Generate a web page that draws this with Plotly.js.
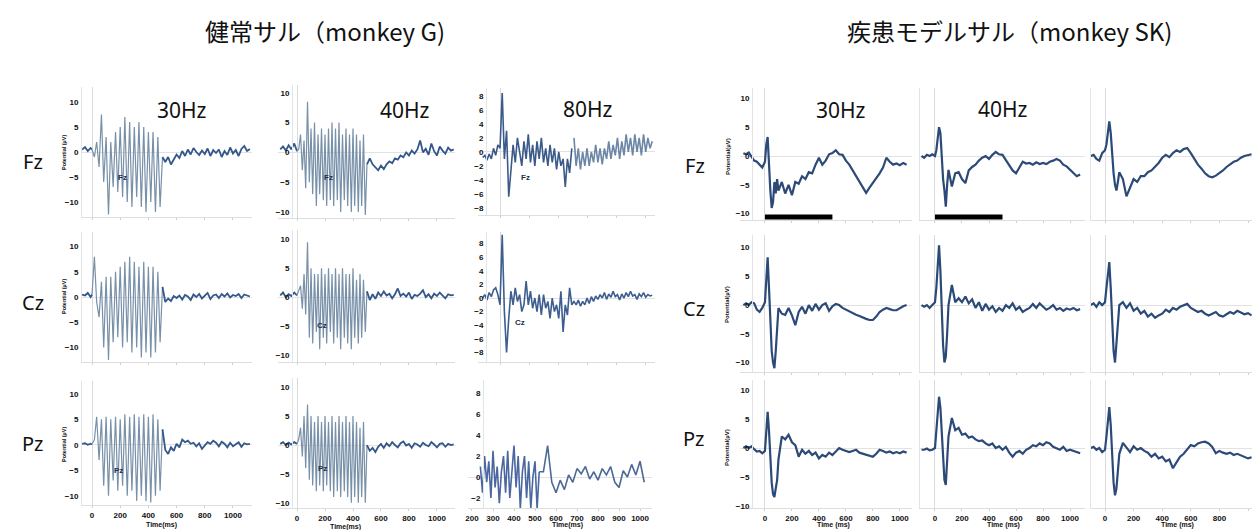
<!DOCTYPE html>
<html><head><meta charset="utf-8">
<script src="https://cdn.plot.ly/plotly-3.0.1.min.js"></script>
<style>html,body{margin:0;padding:0;background:#fff}#c{width:1252px;height:530px}</style>
</head><body><div id="c"></div>
<script>
// ---------- time bases (ms) ----------
const tL30 = [-70,-50,-30,-10,0,17,33,50,67,83,100,117,133,150,167,183,200,217,233,250,267,283,300,317,333,350,367,383,400,417,433,450,467,483,500,520,540,560,580,600,620,640,660,680,700,720,740,760,780,800,820,840,860,880,900,920,940,960,980,1000,1020,1040,1060,1080,1100,1120];
const tL40 = [-120,-100,-80,-60,-40,-20,0,12,25,38,50,62,75,88,100,112,125,138,150,162,175,188,200,212,225,238,250,262,275,288,300,312,325,338,350,362,375,388,400,412,425,438,450,462,475,488,500,520,540,560,580,600,620,640,660,680,700,720,740,760,780,800,820,840,860,880,900,920,940,960,980,1000,1020,1040,1060,1080,1100,1120];
const tL80 = [-120,-105,-90,-75,-60,-45,-30,-15,0,15,30,45,60,75,90,105,120,135,150,165,180,195,210,225,240,255,270,285,300,315,330,345,360,375,390,405,420,435,450,465,480,495,510,525,540,555,570,585,600,615,630,645,660,675,690,705,720,735,750,765,780,795,810,825,840,855,870,885,900,915,930,945,960,975,990,1005,1020,1035,1050];
const tL80P = [240,250,260,270,280,290,300,310,320,330,340,350,360,370,380,390,400,410,420,430,440,450,460,470,480,490,500,510,520,540,560,580,600,620,640,660,680,700,720,740,760,780,800,820,840,860,880,900,920,940,960,980,1000,1020];
const tR = [-160,-140,-120,-100,-80,-60,-40,-20,0,10,20,30,40,50,60,70,80,90,100,125,150,175,200,225,250,275,300,325,350,375,400,425,450,475,500,525,550,575,600,625,650,675,700,725,750,775,800,825,850,875,900,925,950,975,1000,1025,1050,1075,1100];

// ---------- healthy monkey G (µV) ----------
const fzG30 = [0.5,1.0,0.2,0.8,0.5, -1,2,-3,7.5,-6,3,-12.5,2,-7,4,-8,5,-9,7,-10,6,-11,5,-9,6,-11,5,-12,4,-10,4,-12,3,-11,-1, -2,-1,-2.5,-1.5,-0.5,-1.2,0.2,-0.8,0.5,-0.5,0.8,0,-0.6,0.3,-0.4,0.7,-0.8,0.4,-0.2,0.5,-1,0.2,-0.6,0.9,-0.3,0.4,-0.8,0.6,1.2,0.2,0.6];
const czG30 = [0.5,0.3,0.8,0,0.5, 8,-1,-4,3,-10,4,-12.5,4,-9,5,-8,6,-10,7,-9,8,-11,7,-10,6,-12,7,-11,6,-12,6,-11,5,-9,2, -1,-0.3,-0.8,0.2,-0.2,0.3,-0.5,0.4,0.1,-0.6,0.5,0,0.6,-0.3,0.2,0.8,-0.4,0.3,0.5,-0.2,0.6,0.1,0.7,-0.1,0.4,0.2,0.6,-0.2,0.5,0.3,0.1];
const pzG30 = [0.2,0.3,0,0.2,0.1, 1,5.5,-3,5,-8,5.5,-10,5,-7,5.5,-9,5,-8,6,-10,5.5,-9,6,-11,5.5,-10,6,-11,5.5,-11.3,6,-10,5,-9,3, -1,-1.8,-0.5,-1.2,0.2,-0.5,1,0.5,0.8,0.2,0.4,-0.3,0.3,-0.8,-0.2,0.5,0.2,0.8,0.4,-0.3,0.6,0.2,-0.5,0.4,-0.3,0.2,0.5,-0.4,0.3,0.1,0.2];
const fzG40 = [0.5,1,0.3,1.2,0.5,1.5,0.2, 0.5,3,-3,2,-6,8.5,-5,4,-7,5,-9,3,-7,4,-8,3,-9,4,-8,5,-9,4,-8,5,-10,3,-8,4,-9,3,-10,4,-9,3,-10,2,-9,3,-10.5,-2, -1,-2,-2.5,-3,-2.2,-2.8,-2,-1.5,-1.8,-1,-1.2,-0.5,-0.8,0,-0.5,0.3,-0.2,0.5,2,0,0.6,-0.4,1.5,0.2,-0.5,1,0.3,-0.2,0.8,0.3,0.5];
const czG40 = [0.3,0.8,0,0.5,0.2,0.8,0.3, 1,2,-2,4,-3,9.5,-7,5,-8,4,-6,4,-9,5,-7,4,-8,5,-6,4,-8,5,-7,4,-9,5,-7,4,-8,4,-9,5,-7,3,-8,4,-7,3,-6,1, -0.5,0.5,-0.3,0.8,0.2,1,0.3,0.6,-0.2,0.5,1.5,0.2,0.6,0.1,0.8,-0.3,0.4,0.2,0.6,1.2,0,0.5,-0.2,0.6,0.2,0.8,0.3,-0.2,0.5,0.3,0.4];
const pzG40 = [0.2,0.5,0,0.4,0.1,0.5,0.2, 1,3,-2,5,-4,7,-6,5,-7,4,-8,5,-7,4,-8,5,-7,4,-8,5,-9,4,-8,5,-9,4,-8,5,-9,4,-10,5,-9,4,-10,3,-9,4,-10,0, -1,-0.5,-1.2,-0.3,0.2,-0.5,0.3,-0.2,0.5,0,-0.4,0.3,0.6,-0.1,0.2,-0.5,0.3,0.1,-0.3,0.4,0,-0.2,0.5,0.1,-0.4,0.2,0.3,-0.3,0.2,0,0.1];
const fzG80 = [-0.8,-0.5,-1.2,-0.3,-1,0.5,-0.5,1,0.5, 8.4,-1,3,-6.4,-2,1,-1.5,2,0,-2,1.5,-1,2.5,-1.5,1,-2,1.5,-1,2,-1.5,0.5,-2,1,-1.5,0.5,-2.5,0,-2,-1,-5,-1,-3,0.5, 2,-2,0.5,-2.5,0,-2,0.5,-2,0,-1.5,1,-1.5,0.5,-1.8,0.5,-1,1.5,-1,1,-0.5,2,-1,1.5,-0.5,2.5,0,2,-0.5,2.5,0,2,-0.5,2.5,0,2,0.5,1.5];
const czG80 = [0,0.5,-0.3,0.8,0.2,1.2,1.5,0.5,-1, 9.3,-2,-8,-3,1,-1,1.5,-0.5,0.5,-2,-1,2.5,-1,1,-1.5,0,-2,0.5,-2.5,0.5,-1.5,-0.5,-3,0,-2,-1,-3,1,-5,-1,-2.5,1.5,-1, -0.5,-1,-0.3,-1.2,-0.5,-1,0,-0.8,0.2,-0.5,0.3,-0.2,0.5,0,0.8,-0.2,0.6,0.1,1,0.2,0.5,-0.3,0.6,0,0.8,0.2,1,0.3,0.5,-0.2,0.6,0.2,0.8,0.1,0.5,0.3,0.4];
const pzG80 = [1,-1.5,2,-0.5,1.5,-2,2.5,-1,1,-2.5,0.5,2,-1.5,2.5,-2,1,3,-1,2,-3,0.5,2,-2,1.5,-3,0,1.5,-3,0.5, 0.5,3,-0.5,-1.5,-0.3,-1.2,0.2,-0.5,0.8,0.3,1,-0.2,0.5,-0.3,0.8,0.2,1,-0.5,-1,0.6,0,1.2,0.2,1.5,-0.5];

// ---------- disease model monkey SK (µV) ----------
const fzSK30 = [0.5,0.3,0.6,0,-0.8,-1,-1.5,-2,-1, 2,3.3,-2,-6,-9,-8,-4.5,-6.5,-4,-6, -4.5,-6.5,-5,-6.8,-4.5,-4.8,-3.5,-4,-2.8,-3,-1.5,-0.3,-1.5,-0.8,0.3,0.5,1,0.3,0.2,-0.8,-1.5,-2.5,-3.5,-4.5,-5.5,-6.4,-5.5,-4.7,-4,-3,-2,-0.3,-1,-1.5,-1.3,-1.6,-1.2,-1.5,null,null];
const fzSK40 = [null,null,null,0,-0.3,0.2,0,0.3,0, 1,3,5,4,-1,-4,-6,-8.8,-5,-2.4, -5.3,-3,-2.8,-4,-4.7,-2.5,-1.9,-1.5,-0.8,-0.3,0,-0.5,0.2,0.7,0.3,0.2,-0.7,-1.5,-2.5,-3,-2,-1,-1.3,-1.2,-1.5,-1.1,-1.4,-1.2,-1.4,-1,-0.8,-0.5,-0.8,-1.5,-1.8,-2.4,-3,-3.5,-3.2,null];
const fzSK80 = [null,null,null,0,0.2,-0.5,-0.8,0.5,1, 2,4,6,4,0,-3,-5,-6,-4.5,-2.8, -4,-7,-5.5,-4,-4.5,-3.5,-3.5,-2.8,-2.5,-1.8,-1.2,-0.3,0.2,-0.2,0.5,1,0.7,1.2,1.4,0.5,-0.5,-1.5,-2.2,-3,-3.5,-3.7,-3.4,-3,-2.5,-1.9,-1.5,-1,-0.8,-0.3,0,0.2,0.3,null,null,null];
const czSK30 = [0,0.3,0,0.5,0.3,-0.8,-1.2,-0.5,0.5, 4,8.3,3,-3,-8,-10,-11,-8,-4,-0.5, -1.5,-1.7,-0.5,-1.8,-3.5,-1.2,-0.3,-1.5,0,-1,0.2,-0.8,0,0.3,-1,-0.2,0.2,0,-0.5,-0.8,-1.2,-1.5,-1.7,-1.9,-2.2,-2.4,-2.6,-2.6,-2,-1.2,-0.8,-0.5,-0.7,-0.9,-0.9,-0.5,-0.2,0,null,null];
const czSK40 = [null,null,null,0,-0.3,0,-0.5,0,0.5, 3,8,10.4,6,-2,-7,-10,-9,-5,0, 3.5,0.5,1.2,0.5,1.5,0.3,1,-0.5,0.5,-1,0.2,-0.8,-0.2,-1.2,-0.5,-1,0,-0.5,0.3,-0.8,-0.3,-1.2,-0.8,-0.5,0.2,-0.5,0.3,-0.3,-0.8,-0.5,0,-0.8,-0.5,-1,-0.6,-0.8,-0.5,-0.9,-0.7,null];
const czSK80 = [null,null,null,0,0.3,-0.3,0.5,0,0.5, 3,6,7.5,3,-3,-8,-10,-7,-3,0, 0.5,-0.5,0.3,-1,-0.5,-1.5,-1,-2,-1.5,-2.2,-1.8,-1.5,-0.8,-1.2,-0.5,-0.8,-0.3,0,0.2,-0.5,-0.8,-1.2,-1,-1.5,-1.8,-1.5,-1.2,-1.8,-2,-1.6,-1.2,-1.5,-1,-1.3,-1.6,-1.4,-1.8,null,null,null];
const pzSK30 = [0,0.3,0,0.3,-0.2,-0.6,-0.5,-0.9,-0.5, 3,6.3,3,-2,-6,-8,-8.5,-7,-5.6,-2, 2,1.5,2.3,1,0.5,-1.5,-0.3,-1,-0.5,-1.2,-0.8,-1.8,-1.2,-1.5,-0.8,-1.2,-0.5,0,-0.3,-0.5,-0.7,-0.5,-0.3,-0.8,-1,-1.2,-1.3,-1.5,-1,-0.3,-0.5,-0.8,-0.6,-0.9,-0.7,-0.9,-0.6,-0.8,null,null];
const pzSK40 = [null,null,null,-0.3,-0.3,-0.1,-0.4,-0.3,0, 3,6,8.9,7,2,-3,-5.5,-6.4,-3,2, 5.2,3.1,3.5,2.3,2.5,1.8,2,1.5,1.2,1.3,0.8,0.5,0.8,0,0.3,-0.3,0.2,-0.8,-1.5,-0.8,-0.5,-1,-0.3,0,0.5,0.3,0.8,0.5,1,0.8,0.2,0,-0.3,0.2,-0.5,-0.3,-0.5,-0.8,-0.9,null];
const pzSK80 = [null,null,null,0,0.2,-0.3,0,-0.7,-0.3, 2,5,7.1,4,-2,-6,-8.2,-7,-4,-1, 0.9,0,-0.7,0.3,-0.3,0,-0.5,-0.8,-1.5,-1,-1.8,-1.5,-2.3,-2,-3.5,-2.5,-1.5,-1,-0.3,0.5,0.3,0.8,1,1.1,0.8,0.2,-0.9,-0.5,-0.8,-1,-0.8,-1.2,-1,-1.3,-1.5,-1.8,-1.6,null,null,null];

// stimulation period bar (ms) and its level (µV)
const stimT = [0, 500];
const stimY = [-10.6, -10.6];

// tick labels
const ticks10 = [-10,-5,0,5,10];
const ticks8 = [-8,-6,-4,-2,0,2,4,6,8];
const ticks8b = [-2,0,2,4,6,8];
const xt200 = [0,200,400,600,800,1000];
const xt100 = [200,300,400,500,600,700,800,900,1000];

// ---------- layout helpers ----------
const W = 1252, H = 530;
const px = v => v / W, py = v => 1 - v / H;
const DARK = '#34578a', LIGHT = '#7890a8', RC = '#2c4a78';
const oscSegs = [[-1e9, 0, DARK, 1.8], [0, 500, LIGHT, 1.2], [500, 1e9, DARK, 1.8]];
const rSegs = [[-1e9, 1e9, RC, 2.2]];

const panels = [
  // left group (monkey G)
  {t:tL30, v:fzG30, xd:[82,252], xr:[-71,1135], yd:[87,217], yr:[-13,13], yt:ticks10, segs:oscSegs},
  {t:tL30, v:czG30, xd:[82,252], xr:[-71,1135], yd:[232,362], yr:[-12.9,12.9], yt:ticks10, segs:oscSegs},
  {t:tL30, v:pzG30, xd:[82,252], xr:[-71,1135], yd:[381,505], yr:[-11.8,12.5], yt:ticks10, segs:oscSegs, xt:xt200},
  {t:tL40, v:fzG40, xd:[278,455], xr:[-136,1129], yd:[85,218], yr:[-11,11.3], yt:ticks10, segs:oscSegs, ypos:292},
  {t:tL40, v:czG40, xd:[278,455], xr:[-136,1129], yd:[230,362], yr:[-11.2,11.6], yt:ticks10, segs:oscSegs, ypos:292},
  {t:tL40, v:pzG40, xd:[278,455], xr:[-136,1129], yd:[378,508], yr:[-10.9,11.6], yt:ticks10, segs:oscSegs, ypos:292, xt:xt200},
  {t:tL80, v:fzG80, xd:[478,655], xr:[-152,1069], yd:[88,215], yr:[-9,9.1], yt:ticks8, segs:[[-1e9,500,'#3a5b8a',1.6],[500,1e9,'#6d87a6',1.6]], ypos:486},
  {t:tL80, v:czG80, xd:[478,655], xr:[-152,1069], yd:[232,362], yr:[-9.4,9.7], yt:ticks8, segs:[[-1e9,1e9,'#3d5e8e',1.6]], ypos:486},
  {t:tL80P, v:pzG80, xd:[468,652], xr:[181,1057], yd:[380,508], yr:[-2.95,9.24], yt:ticks8b, segs:[[-1e9,520,'#4a67a0',1.6],[520,1e9,'#4c6a95',1.6]], ypos:483, xt:xt100},
  // right group (monkey SK)
  {t:tR, v:fzSK30, xd:[740,912], xr:[-185,1090], yd:[88,220], yr:[-11.1,11.8], yt:ticks10, segs:rSegs, ypos:752, bar:true},
  {t:tR, v:czSK30, xd:[740,912], xr:[-185,1090], yd:[235,372], yr:[-11.65,12.2], yt:ticks10, segs:rSegs, ypos:752},
  {t:tR, v:pzSK30, xd:[740,912], xr:[-185,1090], yd:[380,508], yr:[-10.4,11.8], yt:ticks10, segs:rSegs, ypos:752, xt:xt200},
  {t:tR, v:fzSK40, xd:[920,1085], xr:[-111,1111], yd:[88,220], yr:[-11.1,11.8], segs:rSegs, bar:true},
  {t:tR, v:czSK40, xd:[920,1085], xr:[-111,1111], yd:[235,372], yr:[-11.65,12.2], segs:rSegs},
  {t:tR, v:pzSK40, xd:[920,1085], xr:[-111,1111], yd:[380,508], yr:[-10.4,11.8], segs:rSegs, xt:xt200},
  {t:tR, v:fzSK80, xd:[1091,1252], xr:[-98,1028], yd:[88,220], yr:[-11.1,11.8], segs:rSegs},
  {t:tR, v:czSK80, xd:[1091,1252], xr:[-98,1028], yd:[235,372], yr:[-11.65,12.2], segs:rSegs},
  {t:tR, v:pzSK80, xd:[1091,1252], xr:[-98,1028], yd:[380,508], yr:[-10.4,11.8], segs:rSegs, xt:xt200}
];

const tickFont = {family:'Liberation Sans, Arial', size:8, color:'#111', weight:'bold'};
const traces = [];
const layout = {
  width: W, height: H, margin:{l:0,r:0,t:0,b:0},
  paper_bgcolor:'#fff', plot_bgcolor:'rgba(0,0,0,0)', showlegend:false,
  annotations: []
};

panels.forEach((p, i) => {
  const n = i + 1, xa = 'x' + (n === 1 ? '' : n), ya = 'y' + (n === 1 ? '' : n);
  p.segs.forEach(s => {
    traces.push({
      type:'scatter', mode:'lines', x:p.t,
      y:p.v.map((val, k) => (p.t[k] >= s[0] && p.t[k] <= s[1]) ? val : null),
      xaxis:xa, yaxis:ya, line:{color:s[2], width:s[3]}, hoverinfo:'skip'
    });
  });
  if (p.bar) {
    traces.push({type:'scatter', mode:'lines', x:stimT, y:stimY, xaxis:xa, yaxis:ya,
      line:{color:'#000', width:5}, hoverinfo:'skip'});
  }
  const xname = 'xaxis' + (n === 1 ? '' : n), yname = 'yaxis' + (n === 1 ? '' : n);
  layout[xname] = {
    domain:[px(p.xd[0]), px(p.xd[1])], range:p.xr, anchor:ya,
    showgrid:false, zeroline:true, zerolinecolor:'#dadada', zerolinewidth:1,
    showline:true, linecolor:'#dedede', linewidth:1,
    ticks:'outside', ticklen:2, tickcolor:'#cfcfcf',
    tickvals: p.xt || xt200, showticklabels: !!p.xt, tickfont:tickFont
  };
  const y = {
    domain:[py(p.yd[1]), py(p.yd[0])], range:p.yr,
    showgrid:false, zeroline:true, zerolinecolor:'#e2e2e2', zerolinewidth:1,
    showline:true, linecolor:'#e4e4e4', linewidth:1, ticks:'',
    tickvals:p.yt || [], showticklabels: !!p.yt, tickfont:tickFont, ticklabelstandoff:1
  };
  if (p.ypos) { y.anchor = 'free'; y.position = px(p.ypos); } else { y.anchor = xa; }
  layout[yname] = y;
});

const A = layout.annotations;
function txt(text, x, y, size, opts) {
  A.push(Object.assign({text, x:px(x), y:py(y), xref:'paper', yref:'paper', showarrow:false,
    xanchor:'center', yanchor:'middle', font:{family:'Noto Sans, Liberation Sans', size, color:'#111'}}, opts || {}));
}
const cjk = {font:{family:'Noto Sans CJK JP', size:24, color:'#111'}};
txt('健常サル（monkey G)', 325, 31, 24, cjk);
txt('疾患モデルサル（monkey SK)', 1009, 31, 24, cjk);
[['30Hz',182,110],['40Hz',405,110],['80Hz',588,109],['30Hz',841,110],['40Hz',1003,109]].forEach(a => txt(a[0], a[1], a[2], 21));
[['Fz',33,162],['Cz',33,302],['Pz',33,443],['Fz',695,165],['Cz',694,308],['Pz',694,438]].forEach(a => txt(a[0], a[1], a[2], 20));
const yl = {textangle:-90, font:{family:'Liberation Sans', size:5.5, color:'#111', weight:'bold'}};
[[64,153],[64,297],[64,445]].forEach(a => txt('Potential (µV)', a[0], a[1], 5.5, yl));
const yr2 = {textangle:-90, font:{family:'Liberation Sans', size:6, color:'#111', weight:'bold'}};
[[728,157],[727,305],[727,448]].forEach(a => txt('Potential(µV)', a[0], a[1], 6, yr2));
const xl = {font:{family:'Liberation Sans', size:7, color:'#111', weight:'bold'}};
[[161,525],[345,527],[567,525]].forEach(a => txt('Time(ms)', a[0], a[1], 7, xl));
[[833,525],[1003,525],[1177,525]].forEach(a => txt('Time (ms)', a[0], a[1], 7, xl));
const small = {font:{family:'Liberation Sans', size:8, color:'#1d2d4a', weight:'bold'}};
[['Fz',122,177],['Fz',328,177],['Fz',525,178],['Cz',322,325],['Cz',520,322],['Pz',118,470],['Pz',322,468]].forEach(a => txt(a[0], a[1], a[2], 8, small));

Plotly.newPlot('c', traces, layout, {staticPlot:true, displayModeBar:false});
</script></body></html>
